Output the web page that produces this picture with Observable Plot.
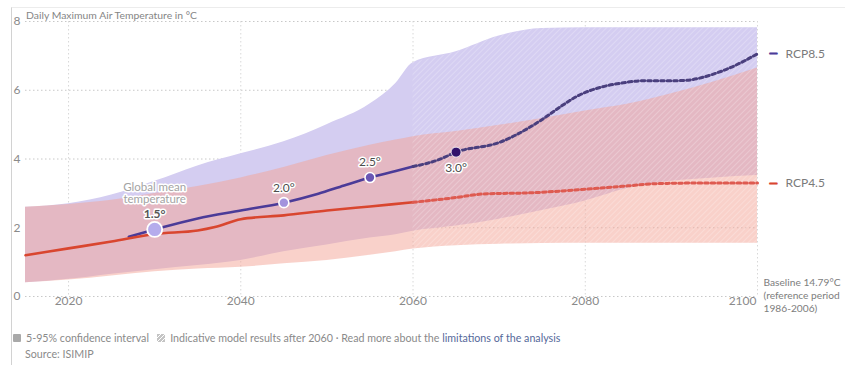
<!DOCTYPE html>
<html>
<head>
<meta charset="utf-8">
<script src="https://cdn.jsdelivr.net/npm/d3@7"></script>
<script src="https://cdn.jsdelivr.net/npm/@observablehq/plot@0.6"></script>
<style>
  body { margin: 0; background: #fff; font-family: Lato, "Noto Sans", sans-serif; }
  #wrap { position: relative; width: 845px; height: 365px; overflow: hidden; }
  #frame { position: absolute; left: 11px; top: 7px; right: -2px; bottom: -2px; border-left: 1px solid #d2d2d2; border-top: 1px solid #ececec; }
  #chart { position: absolute; left: 0; top: 0; }
  #title { position: absolute; left: 26px; top: 9px; font-size: 10.4px; color: #858585; white-space: nowrap; }
  #legend { position: absolute; left: 13px; top: 331px; font-size: 10.7px; color: #8a8a8a; white-space: nowrap; }
  #legend .sq { display: inline-block; width: 8px; height: 8px; background: #a9a9a9; border-radius: 1px; margin-right: 5px; }
  #legend svg { margin-right: 5px; }
  #legend a { color: #55699a; text-decoration: none; }
  #source { position: absolute; left: 25px; top: 347px; font-size: 10.7px; color: #8a8a8a; }
</style>
</head>
<body>
<div id="wrap">
  <div id="frame"></div>
  <div id="chart"></div>
  <div id="title">Daily Maximum Air Temperature in °C</div>
  <div id="legend"><span class="sq"></span>5-95% confidence interval&nbsp;&nbsp;&nbsp;<svg width="8" height="8"><rect width="8" height="8" fill="#c4c4c4"/><path d="M-2,10 L10,-2 M-2,6 L6,-2 M2,10 L10,2" stroke="#fff" stroke-width="1"/></svg>Indicative model results after 2060 · Read more about the <a>limitations of the analysis</a></div>
  <div id="source">Source: ISIMIP</div>
</div>
<script>
// ---- data ----
const bandYears  = [2015, 2020, 2025, 2030, 2035, 2040, 2045, 2050, 2055, 2058, 2060, 2065, 2070, 2075, 2080, 2085, 2090, 2095, 2100];
const rcp85Upper = [2.6, 2.7, 2.95, 3.35, 3.8, 4.15, 4.5, 5.0, 5.6, 6.2, 6.8, 7.12, 7.58, 7.8, 7.82, 7.82, 7.82, 7.82, 7.82];
const rcp85Lower = [0.4, 0.5, 0.65, 0.78, 0.9, 1.05, 1.3, 1.5, 1.7, 1.8, 1.9, 2.05, 2.25, 2.5, 2.78, 3.15, 3.35, 3.45, 3.52];
const rcp45Upper = [2.6, 2.68, 2.8, 3.0, 3.2, 3.45, 3.75, 4.1, 4.4, 4.55, 4.65, 4.8, 4.98, 5.18, 5.4, 5.6, 5.9, 6.25, 6.65];
const rcp45Lower = [0.4, 0.48, 0.6, 0.72, 0.8, 0.85, 0.95, 1.05, 1.2, 1.3, 1.38, 1.48, 1.52, 1.54, 1.55, 1.55, 1.55, 1.55, 1.55];

const rcp45Years = [2015, 2020, 2025, 2030, 2035, 2037, 2040, 2045, 2050, 2055, 2060, 2065, 2068, 2074, 2080, 2085, 2088, 2093, 2100];
const rcp45Values = [1.2, 1.4, 1.6, 1.82, 1.92, 2.02, 2.25, 2.36, 2.5, 2.62, 2.74, 2.88, 2.98, 3.02, 3.12, 3.22, 3.28, 3.3, 3.3];

const rcp85Years = [2027, 2030, 2035, 2040, 2045, 2049, 2052, 2055, 2058, 2060, 2063, 2065, 2070, 2075, 2077, 2079, 2082, 2084, 2087, 2091, 2096, 2100];
const rcp85Values = [1.74, 1.95, 2.27, 2.5, 2.73, 2.99, 3.23, 3.46, 3.65, 3.78, 3.98, 4.2, 4.48, 5.15, 5.5, 5.82, 6.1, 6.2, 6.28, 6.28, 6.57, 7.06];

const markerYears  = [2030, 2045, 2055, 2065];
const markerValues = [1.95, 2.73, 3.46, 4.2];
const markerLabels = ["1.5°", "2.0°", "2.5°", "3.0°"];

const seriesNames = ["RCP8.5", "RCP4.5"];
const xTicks = [2020, 2040, 2060, 2080, 2100];
const yTicks = [0, 2, 4, 6, 8];
const splitYear = 2060;

// ---- build tables ----
const bands = bandYears.map((year, i) => ({
  year, hi85: rcp85Upper[i], lo85: rcp85Lower[i], hi45: rcp45Upper[i], lo45: rcp45Lower[i]
}));
const l45 = rcp45Years.map((year, i) => ({ year, v: rcp45Values[i] }));
const l85 = rcp85Years.map((year, i) => ({ year, v: rcp85Values[i] }));
const markers = markerYears.map((year, i) => ({ year, v: markerValues[i], label: markerLabels[i], i }));
const ends = [
  { name: seriesNames[0], year: rcp85Years[rcp85Years.length - 1], v: rcp85Values[rcp85Values.length - 1], color: "#4b3b98" },
  { name: seriesNames[1], year: rcp45Years[rcp45Years.length - 1], v: rcp45Values[rcp45Values.length - 1], color: "#d9462f" }
];

const curve = "monotone-x";
const font = "Lato, 'Noto Sans', sans-serif";

// marker styles (code, not data)
const dotStyles = [
  { r: 7.5, fill: "#b5acec", stroke: "white", strokeWidth: 1.8 },
  { r: 5, fill: "#a293dd", stroke: "white", strokeWidth: 1.6 },
  { r: 5, fill: "#6a56b4", stroke: "white", strokeWidth: 1.6 },
  { r: 5, fill: "#33126b", stroke: "white", strokeWidth: 0.8 }
];
const dotMarks = markers.map((m, i) => Plot.dot([m], { x: "year", y: "v", ...dotStyles[i] }));

const plot = Plot.plot({
  width: 845,
  height: 322,
  marginLeft: 25,
  marginRight: 88,
  marginTop: 21,
  marginBottom: 26,
  style: { fontFamily: font, fontSize: "12px", color: "#8a8a8a", background: "transparent", overflow: "visible" },
  x: { domain: [2015, 2100], axis: null },
  y: { domain: [0, 8], ticks: yTicks, tickSize: 0, tickPadding: 5, label: null },
  marks: [
    Plot.ruleY(yTicks, { stroke: "#c8c8c8", strokeDasharray: "1.5,2.5" }),
    Plot.ruleX(xTicks, { stroke: "#d8d8d8", strokeDasharray: "1.5,2.5" }),
    Plot.areaY(bands, { x: "year", y1: "lo85", y2: "hi85", fill: "#d4cdf1", curve }),
    Plot.areaY(bands, { x: "year", y1: "lo45", y2: "hi45", fill: "#f4a396", fillOpacity: 0.5, curve }),
    Plot.areaY(bands.filter(d => d.year >= splitYear), {
      x: "year", y1: d => Math.min(d.lo45, d.lo85), y2: d => Math.max(d.hi45, d.hi85), fill: "url(#hatch)", curve
    }),
    Plot.line(l85.filter(d => d.year <= splitYear), { x: "year", y: "v", stroke: "#4b3b98", strokeWidth: 2.6, curve }),
    Plot.line(l85.filter(d => d.year >= splitYear), { x: "year", y: "v", stroke: "#4a3f7e", strokeWidth: 3, strokeDasharray: "3.5,3", curve }),
    Plot.line(l45.filter(d => d.year <= splitYear), { x: "year", y: "v", stroke: "#d9462f", strokeWidth: 2.6, curve }),
    Plot.line(l45.filter(d => d.year >= splitYear), { x: "year", y: "v", stroke: "#de5a50", strokeWidth: 3, strokeDasharray: "3.5,3", curve }),
    Plot.text(markers.filter(d => d.i === 0), {
      x: "year", y: "v", text: () => "Global mean\ntemperature",
      dy: -36, lineAnchor: "middle", lineHeight: 1.05, fontSize: 11.5,
      fill: "#a3a3a3", stroke: "white", strokeWidth: 3
    }),
    ...dotMarks,
    Plot.text(markers.filter(d => d.i === 0), {
      x: "year", y: "v", text: "label", dy: -15, fontSize: 12, fontWeight: "bold",
      fill: "#555", stroke: "white", strokeWidth: 3
    }),
    Plot.text(markers.filter(d => d.i === 1 || d.i === 2), {
      x: "year", y: "v", text: "label", dy: -15, fontSize: 12,
      fill: "#4d4d4d", stroke: "white", strokeWidth: 3
    }),
    Plot.text(markers.filter(d => d.i === 3), {
      x: "year", y: "v", text: "label", dy: 16, fontSize: 12,
      fill: "#4d4d4d", stroke: "white", strokeWidth: 3
    }),
    // x axis labels
    Plot.text(xTicks.filter(d => d < 2100), { x: d => d, frameAnchor: "bottom", text: d => String(d), dy: 8, fill: "#8a8a8a", fontSize: 12 }),
    Plot.text(xTicks.filter(d => d === 2100), { x: d => d, frameAnchor: "bottom", text: d => String(d), dy: 8, dx: -1, textAnchor: "end", fill: "#8a8a8a", fontSize: 12 }),
    // series end labels
    Plot.text(ends, { x: "year", y: "v", text: () => "—", dx: 16, fill: "color", stroke: "color", strokeWidth: 1, fontSize: 11, fontWeight: "bold" }),
    Plot.text(ends, { x: "year", y: "v", text: "name", dx: 28, textAnchor: "start", fill: "#7a7a7a", fontSize: 12 }),
    Plot.text(["Baseline 14.79°C\n(reference period\n1986-2006)"], {
      frameAnchor: "bottom-right", text: d => d, textAnchor: "start", lineAnchor: "top",
      dx: 6, dy: -20, lineHeight: 1.3, fill: "#7d7d7d", fontSize: 10.2
    })
  ]
});

// hatch pattern definition for post-2060 model results
const svg = d3.select(plot.tagName === "svg" ? plot : plot.querySelector("svg"));
const pat = svg.insert("defs", ":first-child")
  .append("pattern")
  .attr("id", "hatch")
  .attr("patternUnits", "userSpaceOnUse")
  .attr("width", 4).attr("height", 4)
  .attr("patternTransform", "rotate(45)");
pat.append("line").attr("x1", 0).attr("y1", 0).attr("x2", 0).attr("y2", 4)
  .attr("stroke", "rgba(255,255,255,0.38)").attr("stroke-width", 1.2);

document.getElementById("chart").appendChild(plot);
</script>
</body>
</html>
